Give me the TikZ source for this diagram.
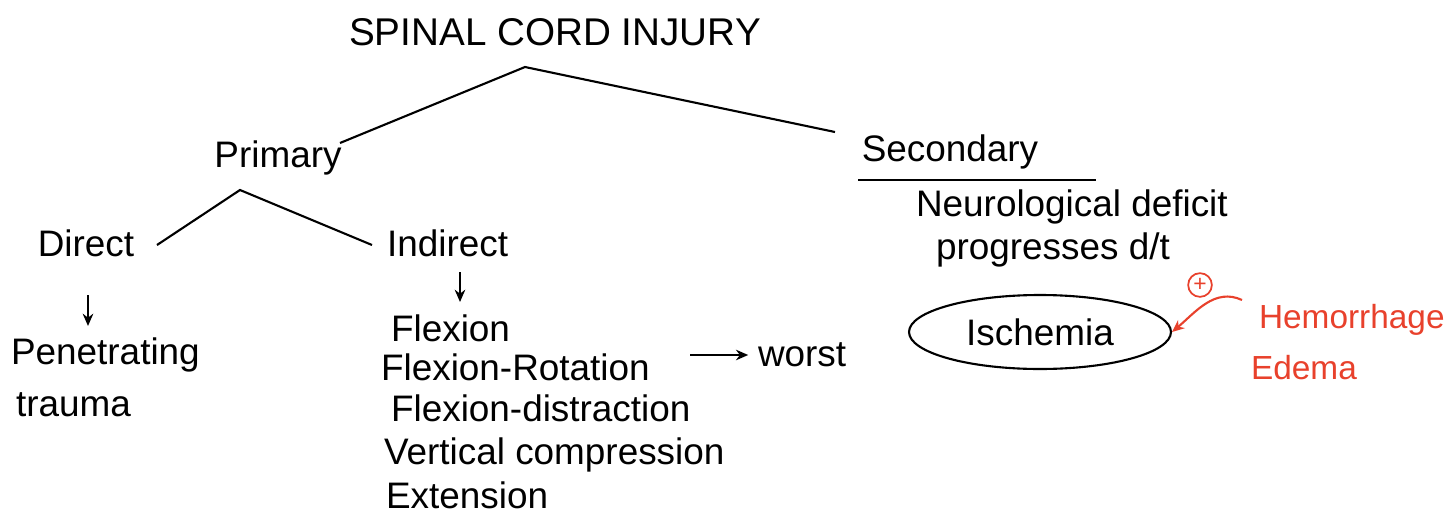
\documentclass[tikz,border=0pt]{standalone}
\usepackage{fontspec}
\setmainfont{Liberation Sans}
\usetikzlibrary{positioning}
\usetikzlibrary{arrows.meta}
\usetikzlibrary{shapes.geometric}

\definecolor{notered}{HTML}{E8412C}

\begin{document}
\begin{tikzpicture}[x=0.02cm,y=-0.02cm,line width=1.2pt,
    txt/.style={font=\fontsize{21}{24}\selectfont, inner sep=0pt},
    item/.style={txt, anchor=west},
    arr/.style={-{Stealth[length=7pt,width=6pt]}}]
        \useasboundingbox (0,0) rectangle (1455,521);

        % Define the coordinates of the branch points
        \coordinate (top) at (525,67);
        \coordinate (topl) at (340,143);
        \coordinate (topr) at (835,132);
        \coordinate (prim) at (240,190);
        \coordinate (priml) at (157,245);
        \coordinate (primr) at (372,245);

        % Main headings
        \node[txt, font=\fontsize{22}{24}\selectfont] (title) at (555,32) {SPINAL CORD INJURY};
        \node[txt] (primary) at (278,158) {Primary};
        \node[txt] (secondary) at (950,152) {Secondary};
        \node[txt] (direct) at (86,243) {Direct};
        \node[item] (indirect) at (386,243) {Indirect};

        % Draw the lines
        \draw (topl) -- (top) -- (topr);
        \draw (priml) -- (prim) -- (primr);
        \draw (858,180) coordinate (ul1) -- (1096,180) coordinate (ul2);

        % Direct branch
        \coordinate (da1) at (88,295);
        \coordinate (da2) at (88,326);
        \draw[arr] (da1) -- (da2);
        \node[item] (pen) at (10,355) {Penetrating};
        \node[item] (trauma) at (15,405) {trauma};

        % Indirect branch
        \coordinate (ia1) at (460,272);
        \coordinate (ia2) at (460,302);
        \draw[arr] (ia1) -- (ia2);
        \foreach \name/\x/\y/\text in {flex/390/328/Flexion, flexrot/380/367/Flexion-Rotation,
            flexdis/390/408/Flexion-distraction, vert/383/455/Vertical compression, ext/385/495/Extension}
            \node[item] (\name) at (\x,\y) {\text};
        \node[item] (worst) at (757,355) {worst};
        \coordinate (wa1) at (690,355);
        \draw[arr, line width=1pt, shorten >=5pt] (wa1) -- (worst.west);

        % Secondary branch
        \node[item] (neuro) at (915,207) {Neurological deficit};
        \node[item] (prog) at (935,250) {progresses d/t};
        \node[draw, ellipse, minimum width=5.24cm, minimum height=1.48cm, txt] (ischemia) at (1040,332) {Ischemia};

        % Red notes
        \node[draw=notered, text=notered, circle, inner sep=1pt, line width=1pt,
            font=\fontsize{13}{13}\selectfont] (plus) at (1200,285) {+};
        \node[item, text=notered, font=\fontsize{19}{22}\selectfont] (hemo) at (1258,320) {Hemorrhage};
        \node[item, text=notered, font=\fontsize{19}{22}\selectfont] (edema) at (1250,368) {Edema};
        \coordinate (ra1) at (1242,300);
        \draw[arr, notered] (ra1) to[out=155, in=40] (ischemia.east);
     \end{tikzpicture}
\end{document}
